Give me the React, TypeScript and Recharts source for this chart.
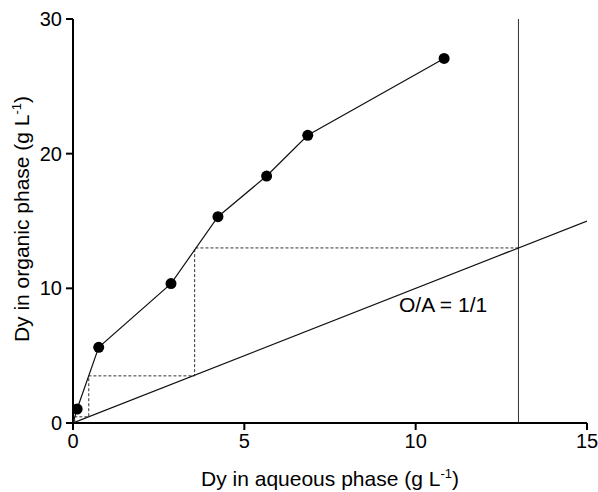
import React from "react";
import {
  ReferenceLine,
  Scatter,
  ScatterChart,
  XAxis,
  YAxis,
} from "recharts";

// equilibrium isotherm (measured points)
const aqueousDy = [0.12, 0.75, 2.86, 4.23, 5.65, 6.85, 10.83];
const organicDy = [1.04, 5.62, 10.35, 15.32, 18.34, 21.36, 27.07];

// operating line O/A = 1/1
const operatingX = [0, 15];
const operatingY = [0, 15];

// McCabe-Thiele stage construction
const stepX = [13, 3.55, 3.55, 0.46, 0.46, 0.05, 0.05];
const stepY = [13, 13, 3.5, 3.5, 0.46, 0.46, 0.05];

const feedX = 13;
const xTicks = [0, 5, 10, 15];
const yTicks = [0, 10, 20, 30];

const FONT = "Arial, 'Liberation Sans', Helvetica, sans-serif";

const isotherm = [{ x: 0, y: 0 }].concat(
  aqueousDy.map((x, i) => ({ x, y: organicDy[i] }))
);
const dots = aqueousDy.map((x, i) => ({ x, y: organicDy[i] }));
const operating = operatingX.map((x, i) => ({ x, y: operatingY[i] }));
const steps = stepX.map((x, i) => ({ x, y: stepY[i] }));

const NoDot = () => null;

const Dot = ({ cx, cy }: any) => <circle cx={cx} cy={cy} r={5.5} fill="#000" />;

const XTitle = ({ viewBox }: any) => {
  const cx = viewBox.x + viewBox.width / 2;
  return (
    <text x={cx} y={486} textAnchor="middle" fontSize={21} fontFamily={FONT} fill="#000">
      Dy in aqueous phase (g L
      <tspan dy={-8} fontSize={13}>-1</tspan>
      <tspan dy={8}>)</tspan>
    </text>
  );
};

const YTitle = ({ viewBox }: any) => {
  const cy = viewBox.y + viewBox.height / 2;
  return (
    <text
      x={0}
      y={0}
      transform={`translate(29, ${cy - 2}) rotate(-90)`}
      textAnchor="middle"
      fontSize={21}
      fontFamily={FONT}
      fill="#000"
    >
      Dy in organic phase (g L
      <tspan dy={-8} fontSize={13}>-1</tspan>
      <tspan dy={8}>)</tspan>
    </text>
  );
};

const App = () => {
  return (
    <div style={{ position: "absolute", left: 0, top: 0, background: "#fff" }}>
      <ScatterChart
        width={598}
        height={492}
        margin={{ top: 19, right: 11, left: 0, bottom: 0 }}
      >
        <XAxis
          type="number"
          dataKey="x"
          domain={[0, 15]}
          ticks={xTicks}
          height={69}
          tickSize={7}
          tickMargin={4}
          stroke="#000"
          strokeWidth={2}
          tick={{ fill: "#000", fontSize: 20, fontFamily: FONT }}
          allowDataOverflow
          label={<XTitle />}
        />
        <YAxis
          type="number"
          dataKey="y"
          domain={[0, 30]}
          ticks={yTicks}
          width={73}
          tickSize={7}
          tickMargin={4}
          stroke="#000"
          strokeWidth={2}
          tick={{ fill: "#000", fontSize: 20, fontFamily: FONT }}
          allowDataOverflow
          label={<YTitle />}
        />
        <ReferenceLine x={feedX} stroke="#333" strokeWidth={1} />
        <Scatter
          data={steps}
          line={{ stroke: "#333", strokeWidth: 1, strokeDasharray: "3 2" }}
          shape={<NoDot />}
          isAnimationActive={false}
        />
        <Scatter
          data={operating}
          line={{ stroke: "#111", strokeWidth: 1.2 }}
          shape={<NoDot />}
          isAnimationActive={false}
        />
        <Scatter
          data={isotherm}
          line={{ stroke: "#111", strokeWidth: 1.2 }}
          shape={<NoDot />}
          isAnimationActive={false}
        />
        <Scatter data={dots} fill="#000" shape={<Dot />} isAnimationActive={false} />
        <ReferenceLine
          segment={[{ x: 10.8, y: 8.8 }, { x: 10.8, y: 8.8 }]}
          stroke="none"
          label={{
            value: "O/A = 1/1",
            position: "center",
            fontSize: 21,
            fontFamily: FONT,
            fill: "#000",
          }}
        />
      </ScatterChart>
    </div>
  );
};

export default App;
